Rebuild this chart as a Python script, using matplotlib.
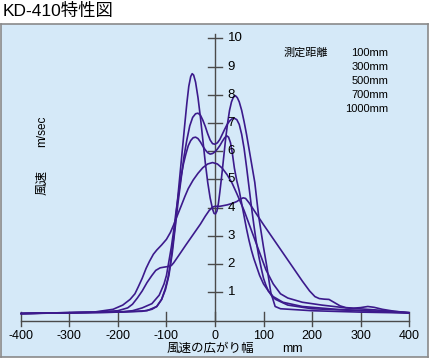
import matplotlib.pyplot as plt

plt.rcParams['font.family'] = ['Liberation Sans', 'Noto Sans CJK JP', 'DejaVu Sans']

# wind speed (m/sec) vs. spread width (mm), one series per measuring distance
x_100 = [-400, -300, -200, -150, -130, -120, -110, -103, -97, -92, -87, -82, -77, -72, -67, -62, -58, -54,
         -50, -47, -44, -40, -35, -30, -25, -20, -15, -10, -5, -2, 1, 4, 7, 10, 14, 18, 22, 26, 30, 34, 38,
         42, 46, 50, 55, 60, 65, 70, 75, 82, 90, 100, 107, 115, 124, 135, 200, 300, 400]
v_100 = [0.25, 0.28, 0.3, 0.33, 0.4, 0.5, 0.75, 1.1, 1.5, 2.0, 2.7, 3.4, 4.3, 5.2, 6.1, 7.0, 7.7, 8.3,
         8.65, 8.75, 8.7, 8.45, 7.9, 7.2, 6.4, 5.6, 4.9, 4.35, 3.95, 3.8, 3.78, 3.88, 4.15, 4.55, 5.15, 5.8, 6.45, 7.0, 7.45, 7.75, 7.92,
         7.97, 7.9, 7.75, 7.45, 7.05, 6.6, 6.1, 5.6, 4.9, 3.7, 2.6, 1.9, 1.0, 0.5, 0.42, 0.35, 0.3, 0.27]

x_300 = [-400, -200, -140, -120, -110, -102, -95, -88, -82, -76, -70, -64, -58, -52, -46, -40, -35, -30,
         -25, -20, -15, -10, -5, 0, 5, 10, 15, 20, 25, 30, 35, 40, 45, 50, 55, 60, 65, 70, 75, 80, 85, 90,
         95, 100, 105, 110, 118, 125, 150, 200, 300, 400]
v_300 = [0.25, 0.3, 0.35, 0.5, 0.75, 1.1, 1.6, 2.4, 3.3, 4.2, 5.0, 5.8, 6.4, 6.9, 7.2, 7.33, 7.35, 7.28,
         7.1, 6.88, 6.62, 6.4, 6.27, 6.25, 6.3, 6.42, 6.6, 6.78, 6.95, 7.07, 7.15, 7.17, 7.12, 6.95, 6.6, 6.1, 5.45, 4.75, 4.05, 3.4, 2.8, 2.3,
         1.88, 1.5, 1.25, 1.05, 0.85, 0.75, 0.55, 0.42, 0.35, 0.27]

x_500 = [-400, -200, -170, -150, -130, -115, -105, -100, -95, -90, -85, -80, -75, -70, -65, -60, -55, -50,
         -45, -40, -35, -30, -25, -20, -15, -10, -5, 0, 5, 10, 15, 20, 24, 28, 32, 36, 40, 45, 50, 55, 60,
         65, 70, 75, 80, 85, 92, 100, 110, 120, 140, 180, 250, 400]
v_500 = [0.25, 0.3, 0.35, 0.45, 0.6, 0.9, 1.3, 1.6, 2.1, 2.6, 3.2, 3.9, 4.5, 5.1, 5.55, 5.9, 6.2, 6.38,
         6.48, 6.5, 6.45, 6.33, 6.18, 6.05, 5.95, 5.9, 5.92, 5.98, 6.08, 6.2, 6.35, 6.48, 6.55, 6.5, 6.3, 5.9, 5.4, 4.95, 4.6, 4.15, 3.7,
         3.25, 2.85, 2.5, 2.2, 1.95, 1.6, 1.3, 1.05, 0.85, 0.65, 0.5, 0.4, 0.28]

x_700 = [-400, -250, -210, -190, -175, -165, -158, -150, -142, -135, -127, -120, -110, -100, -92, -85, -77,
         -70, -62, -55, -45, -35, -25, -15, -5, 5, 15, 25, 35, 45, 60, 75, 90, 105, 120, 135, 150, 180,
         220, 270, 330, 400]
v_700 = [0.25, 0.3, 0.4, 0.55, 0.75, 0.95, 1.2, 1.5, 1.85, 2.1, 2.35, 2.5, 2.68, 2.88, 3.12, 3.4, 3.75,
         4.05, 4.4, 4.68, 4.98, 5.22, 5.42, 5.55, 5.6, 5.55, 5.4, 5.17, 4.88, 4.5, 3.9, 3.2, 2.5, 1.8, 1.3, 0.95, 0.8, 0.65,
         0.55, 0.45, 0.38, 0.28]

x_1000 = [-400, -250, -200, -180, -170, -160, -150, -140, -130, -122, -113, -103, -95, -90, -85, -75, -60,
          -45, -30, -20, -12, -5, 0, 10, 25, 35, 45, 52, 58, 63, 70, 80, 100, 140, 180, 195, 206, 215, 225,
          235, 245, 258, 270, 285, 300, 315, 328, 345, 370, 400]
v_1000 = [0.25, 0.3, 0.35, 0.45, 0.58, 0.8, 1.05, 1.35, 1.6, 1.78, 1.87, 1.9, 1.92, 1.95, 2.05, 2.3, 2.68,
          3.05, 3.42, 3.7, 3.9, 4.02, 4.05, 4.05, 4.1, 4.15, 4.22, 4.3, 4.35, 4.33, 4.18, 3.92, 3.4, 2.4, 1.4, 1.05, 0.85, 0.78, 0.76,
          0.75, 0.65, 0.52, 0.46, 0.44, 0.46, 0.5, 0.47, 0.4, 0.33, 0.28]

distances = ['100mm', '300mm', '500mm', '700mm', '1000mm']
x_ticks = [-400, -300, -200, -100, 0, 100, 200, 300, 400]
y_ticks = [1, 2, 3, 4, 5, 6, 7, 8, 9, 10]

line_color = '#3c1a8c'
axis_color = '#4a4a4a'

fig = plt.figure(figsize=(4.3, 3.58), dpi=100)
fig.patch.set_facecolor('white')
ax = fig.add_axes([1 / 430, 1 / 358, 427 / 430, 333 / 358])
ax.set_facecolor('#d5e9f8')
ax.set_xlim(-441, 439)
ax.set_ylim(-1.29, 10.51)
ax.set_xticks([])
ax.set_yticks([])
for s in ax.spines.values():
    s.set_color('#8a8a8a')
    s.set_linewidth(1.2)

# axes drawn inside the panel
ax.plot([-400, 400], [0, 0], color=axis_color, lw=1.0)
ax.plot([0, 0], [0, 10.15], color=axis_color, lw=1.0)
for t in x_ticks:
    ax.plot([t, t], [-0.18, 0.3], color=axis_color, lw=1.0)
    ax.text(t, -0.55, str(t), ha='center', va='center', fontsize=9)
for t in y_ticks:
    ax.plot([-14, 14], [t, t], color=axis_color, lw=1.0)
    ax.text(26, t, str(t), ha='left', va='center', fontsize=9.5)

for xs, vs in [(x_100, v_100), (x_300, v_300), (x_500, v_500), (x_700, v_700), (x_1000, v_1000)]:
    ax.plot(xs, vs, color=line_color, lw=1.2, solid_joinstyle='round', solid_capstyle='round')

# legend block
ax.text(188, 9.5, '測定距離', ha='center', va='center', fontsize=8)
for i, d in enumerate(distances):
    ax.text(357, 9.5 - i * 0.5, d, ha='right', va='center', fontsize=8)

ax.text(-356, 6.7, 'm/sec', rotation=90, ha='center', va='center', fontsize=8.5)
ax.text(-356, 4.9, '風速', rotation=90, ha='center', va='center', fontsize=9)
ax.text(-10, -1.0, '風速の広がり幅', ha='center', va='center', fontsize=9)
ax.text(160, -1.0, 'mm', ha='center', va='center', fontsize=9)

fig.text(3 / 430, 1 - 11 / 358, 'KD-410特性図', ha='left', va='center', fontsize=12.5)

fig.savefig('out.png', dpi=100)
